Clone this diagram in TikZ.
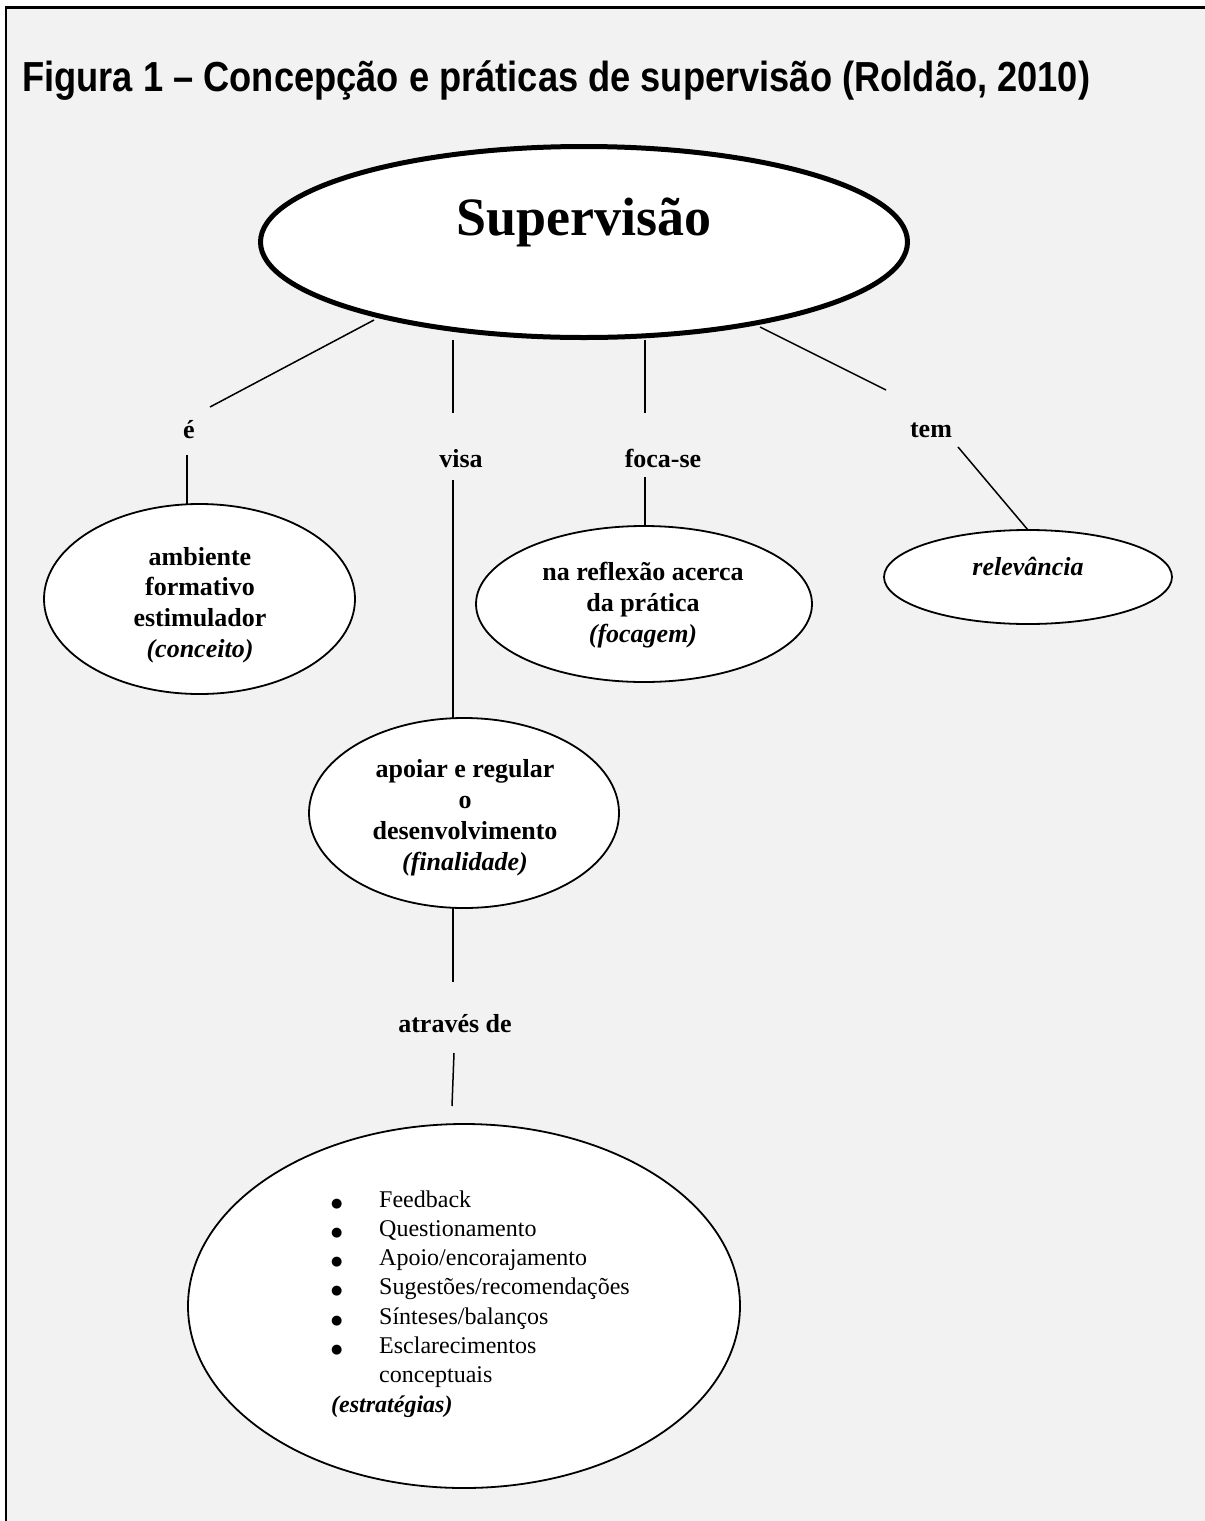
\documentclass[tikz,border=0pt]{standalone}
\usepackage{fontspec}
\setmainfont{Liberation Serif}
\newfontfamily\titlefont{Liberation Sans}
\newfontfamily\symfont{DejaVu Sans}
\usepackage{graphicx}
\usetikzlibrary{shapes.geometric}
\definecolor{bggray}{HTML}{F2F2F2}
\newcommand\mybodyb{\fontsize{26pt}{31pt}\selectfont\bfseries}
\newcommand\mylistf{\fontsize{24pt}{29.3pt}\selectfont}
\newcommand\mybi[1]{\textbf{\textit{#1}}}
\newcommand\mybul{{\symfont\fontsize{13pt}{14pt}\selectfont ●}}
\begin{document}
\begin{tikzpicture}[x=1pt,y=-1pt,
  bubble/.style={ellipse, draw, fill=white, line width=1.8pt, inner sep=0pt, outer sep=0pt},
  conn/.style={line width=1.5pt},
  lbl/.style={anchor=base, inner sep=0pt, font=\mybodyb},
  txt/.style={anchor=base, inner sep=0pt, align=center}]
\useasboundingbox (0,0) rectangle (1205,1521);
\fill[white] (0,0) rectangle (1205,1521);
\fill[bggray] (6,7.5) rectangle (1205,1521);
\draw[line width=2.5pt] (6,1521) -- (6,7.6) -- (1205,7.6);

% title
\node[anchor=base west, inner sep=0pt] (title) at (22,91)
  {\resizebox{1068pt}{\height}{\titlefont\bfseries\fontsize{42pt}{48pt}\selectfont Figura 1 – Concepção e práticas de supervisão (Roldão, 2010)}};

% ellipses
\node[bubble, line width=5pt, minimum width=647pt, minimum height=191pt] (sup) at (584,242) {};
\node[bubble, minimum width=311pt, minimum height=190pt] (amb) at (199.5,599) {};
\node[bubble, minimum width=336pt, minimum height=156pt] (foc) at (644,604) {};
\node[bubble, minimum width=310pt, minimum height=190pt] (apo) at (464,813) {};
\node[bubble, minimum width=288pt, minimum height=94pt] (rel) at (1028,577) {};
\node[bubble, minimum width=552pt, minimum height=364pt] (str) at (464,1306) {};

% texts in ellipses
\node[anchor=base, inner sep=0pt] (suptxt) at (584,235)
  {\fontsize{54pt}{60pt}\selectfont\bfseries Supervisão};
\node[txt] (ambtxt) at (200,565)
  {\fontsize{26pt}{30.7pt}\selectfont\bfseries
   \begin{tabular}[t]{@{}c@{}}ambiente\\formativo\\estimulador\\\textit{(conceito)}\end{tabular}};
\node[txt] (foctxt) at (643,580)
  {\mybodyb
   \begin{tabular}[t]{@{}c@{}}na reflexão acerca\\da prática\\\textit{(focagem)}\end{tabular}};
\node[txt] (apotxt) at (465,777)
  {\mybodyb
   \begin{tabular}[t]{@{}c@{}}apoiar e regular\\o\\desenvolvimento\\\textit{(finalidade)}\end{tabular}};
\node[txt] (reltxt) at (1028,575) {\fontsize{26pt}{31pt}\selectfont\mybi{relevância}};
\node[anchor=base west, inner sep=0pt] (strtxt) at (331,1207)
  {\mylistf
   \begin{tabular}[t]{@{}p{48pt}@{}l@{}}
   \mybul & Feedback\\
   \mybul & Questionamento\\
   \mybul & Apoio/encorajamento\\
   \mybul & Sugestões/recomendações\\
   \mybul & Sínteses/balanços\\
   \mybul & Esclarecimentos\\
     & conceptuais\\
   \multicolumn{2}{@{}l@{}}{\mybi{(estratégias)}}
   \end{tabular}};

% labels
\node[lbl] (le) at (189,438) {é};
\node[lbl] (lvisa) at (461,467) {visa};
\node[lbl] (lfoca) at (663,467) {foca-se};
\node[lbl] (ltem) at (931,437) {tem};
\node[lbl] (latr) at (455,1032) {através de};

% connector ends
\coordinate (a1) at (374,320); \coordinate (a2) at (210,407);
\coordinate (b1) at (187,455);
\coordinate (c1) at (453,340); \coordinate (c2) at (453,413);
\coordinate (c3) at (453,480);
\coordinate (c4) at (453,982);
\coordinate (c5) at (454,1053); \coordinate (c6) at (452,1106);
\coordinate (d1) at (645,340); \coordinate (d2) at (645,413);
\coordinate (d3) at (645,477);
\coordinate (e1) at (760,327); \coordinate (e2) at (886,390);
\coordinate (f1) at (958,447);

\draw[conn] (a1) -- (a2);
\draw[conn] (b1) -- (b1 |- amb.north);
\draw[conn] (c1) -- (c2);
\draw[conn] (c3) -- (c3 |- apo.north);
\draw[conn] (c4 |- apo.south) -- (c4);
\draw[conn] (c5) -- (c6);
\draw[conn] (d1) -- (d2);
\draw[conn] (d3) -- (d3 |- foc.north);
\draw[conn] (e1) -- (e2);
\draw[conn] (f1) -- (rel.north);
\end{tikzpicture}
\end{document}
